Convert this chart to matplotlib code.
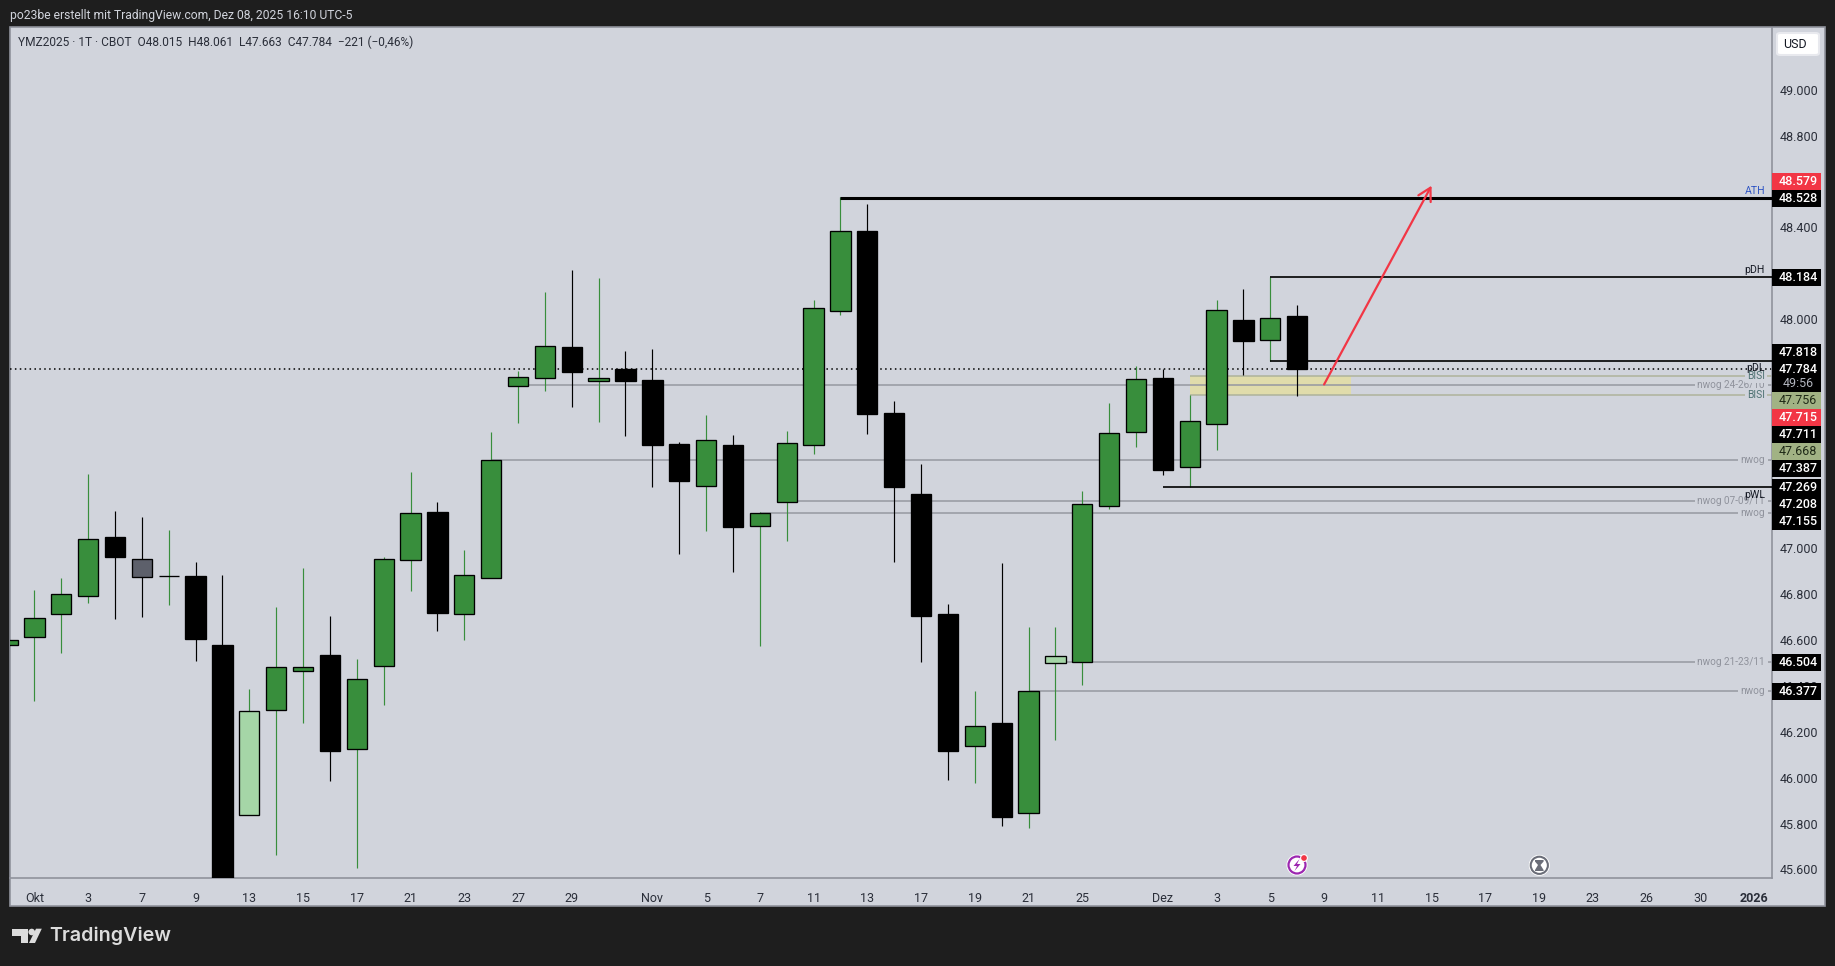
import matplotlib
matplotlib.use("Agg")
import matplotlib.pyplot as plt
from matplotlib.patches import Rectangle, Circle, Polygon, FancyBboxPatch

W, H = 1835, 966
BG = "#1e1e1e"
PANEL = "#d1d4dc"
BORDER = "#8f929c"
FONT = "Roboto"
plt.rcParams["font.family"] = [FONT, "DejaVu Sans"]

# bar index: 0 = 1 Oct 2025
bars   = list(range(-1, 48))
opens  = [46.580, 46.615, 46.715, 46.794, 47.050, 46.952, 46.878, 46.880, 46.579, 45.836,
          46.297, 46.467, 46.535, 46.127, 46.489, 46.951, 47.157, 46.715, 46.872, 47.710,
          47.745, 47.878, 47.731, 47.782, 47.734, 47.455, 47.274, 47.451, 47.099, 47.204,
          47.452, 48.037, 48.384, 47.590, 47.237, 46.714, 46.140, 46.239, 45.848, 46.502,
          46.506, 47.186, 47.509, 47.743, 47.356, 47.541, 47.996, 47.910, 48.015]
highs  = [46.599, 46.819, 46.871, 47.324, 47.163, 47.137, 47.080, 46.941, 46.884, 46.387,
          46.744, 46.914, 46.705, 46.518, 46.963, 47.333, 47.202, 46.993, 47.506, 47.774,
          48.118, 48.213, 48.179, 47.861, 47.870, 47.464, 47.582, 47.495, 47.159, 47.512,
          48.083, 48.531, 48.502, 47.643, 47.368, 46.757, 46.378, 46.936, 46.657, 46.657,
          47.250, 47.634, 47.795, 47.782, 47.669, 48.083, 48.131, 48.182, 48.061]
lows   = [46.580, 46.336, 46.545, 46.763, 46.692, 46.702, 46.753, 46.509, 45.300, 45.836,
          45.663, 46.239, 45.986, 45.606, 46.317, 46.814, 46.640, 46.600, 46.872, 47.548,
          47.688, 47.618, 47.553, 47.490, 47.268, 46.976, 47.076, 46.897, 46.576, 47.032,
          47.412, 48.018, 47.499, 46.941, 46.506, 45.990, 45.977, 45.789, 45.781, 46.164,
          46.404, 47.172, 47.442, 47.320, 47.266, 47.429, 47.755, 47.816, 47.663]
closes = [46.599, 46.695, 46.800, 47.040, 46.963, 46.877, 46.878, 46.605, 45.400, 46.289,
          46.481, 46.481, 46.116, 46.429, 46.952, 47.153, 46.720, 46.883, 47.384, 47.746,
          47.881, 47.771, 47.742, 47.730, 47.451, 47.294, 47.471, 47.093, 47.153, 47.458,
          48.047, 48.383, 47.586, 47.268, 46.705, 46.116, 46.224, 45.829, 46.377, 46.529,
          47.192, 47.502, 47.737, 47.342, 47.554, 48.038, 47.906, 48.003, 47.784]
# g green, k black, s slate, l light green
body_kinds = list("ggggkskkklggkgggkggggkgkkkgkggggkkkkgkglgggkggkgk")
wick_kinds = list(body_kinds)
wick_kinds[6] = "g"   # the doji of 8 Oct has a black body line and a green wick
BODY = {"g": "#388e3c", "k": "#000000", "s": "#5d606b", "l": "#a5d6a7"}
WICK = {"g": "#388e3c", "k": "#000000", "s": "#000000", "l": "#388e3c"}

price_ticks = [45.6, 45.8, 46.0, 46.2, 46.4, 46.6, 46.8, 47.0, 47.2, 47.4, 47.6, 47.8,
               48.0, 48.2, 48.4, 48.6, 48.8, 49.0]
time_ticks  = [0, 2, 4, 6, 8, 10, 12, 14, 16, 18, 20, 23, 25, 27, 29, 31, 33, 35, 37, 39,
               42, 44, 46, 48, 50, 52, 54, 56, 58, 60, 62, 64]
time_labels = ["Okt", "3", "7", "9", "13", "15", "17", "21", "23", "27", "29", "Nov", "5",
               "7", "11", "13", "17", "19", "21", "25", "Dez", "3", "5", "9", "11", "15",
               "17", "19", "23", "26", "30", "2026"]

level_values = [47.711, 47.384, 47.205, 47.153, 46.503, 46.377]
level_starts = [18, 17, 28, 27, 38, 37]
level_names  = ["nwog 24-26/10", "nwog", "nwog 07-09/11", "nwog", "nwog 21-23/11", "nwog"]
key_values = [48.528, 48.184, 47.816, 47.269]
key_starts = [30, 46, 46, 42]
key_names  = ["ATH", "pDH", "pDL", "pWL"]
bisi_top, bisi_bottom = 47.753, 47.668
bisi_start, bisi_end = 43, 49
last_close = 47.784
arrow_start = (48.0, 47.715)
arrow_end = (52.0, 48.582)

tag_texts = ["48.579", "48.528", "48.184", "47.818", "47.784", "49:56", "47.756", "47.715",
             "47.711", "47.668", "47.387", "47.269", "47.208", "47.155", "46.504", "46.377"]
tag_kinds = ["r", "k", "k", "k", "k", "c", "b", "r", "k", "b", "k", "k", "k", "k", "k", "k"]
tag_ypix  = [181.6, 198.6, 277.5, 352.7, 369.7, 383.7, 400.7, 417.7, 434.7, 451.7, 468.7,
             487.7, 504.7, 521.7, 662.5, 691.7]

L, R, T, B = 10.0, 1771.7, 27.5, 878.3
fx = lambda x: x / W
fy = lambda y: 1 - y / H

fig = plt.figure(figsize=(W / 100, H / 100), dpi=100, facecolor=BG)
fig.add_artist(Rectangle((fx(9.5), fy(906)), (1825 - 9.5) / W, (906 - 27) / H,
                         transform=fig.transFigure, facecolor=PANEL, edgecolor=BORDER,
                         linewidth=1.2, zorder=-5))
ax = fig.add_axes([fx(L), fy(B), (R - L) / W, (B - T) / H], facecolor="none")
ax.set_xlim(-0.908, 64.66)
ax.set_ylim(45.561, 49.272)

for s in ("top", "left"):
    ax.spines[s].set_visible(False)
for s in ("right", "bottom"):
    ax.spines[s].set_color(BORDER)
    ax.spines[s].set_linewidth(1.2)

ax.yaxis.tick_right()
ax.set_yticks(price_ticks, [f"{v:.3f}" for v in price_ticks])
ax.set_xticks(time_ticks, time_labels)
ax.tick_params(axis="both", length=0, labelcolor="#2a2e39", labelsize=9.0)
ax.tick_params(axis="y", pad=5.5)
ax.tick_params(axis="x", pad=10)
ax.get_xticklabels()[-1].set_fontweight("bold")

# BISI zone and lines
ax.add_patch(Rectangle((bisi_start, bisi_bottom), bisi_end - bisi_start, bisi_top - bisi_bottom,
                       facecolor="#e0dcab", edgecolor="none", zorder=1))
ax.hlines([bisi_top, bisi_bottom], bisi_start, 64.66, color="#aeb39b", lw=1.1, zorder=1.5)

# nwog levels
for v, s, n in zip(level_values, level_starts, level_names):
    ax.hlines(v, s, 64.66, color="#9598a1", lw=1.1, zorder=1.5)
    ax.annotate(n, xy=(0.9962, v), xycoords=("axes fraction", "data"), ha="right", va="center",
                fontsize=7.2, color="#8f929c", zorder=2,
                bbox=dict(facecolor=PANEL, edgecolor="none", pad=1.8))
for v in (bisi_top, bisi_bottom):
    ax.annotate("BISI", xy=(0.9962, v), xycoords=("axes fraction", "data"), ha="right", va="center",
                fontsize=7.4, color="#4f7273", zorder=2.1,
                bbox=dict(facecolor=PANEL, edgecolor="none", pad=1.4))

# last price
ax.axhline(last_close, color="#000000", lw=1.1, ls=(0, (1, 2.2)), zorder=2.2)

# candles
tops = [max(o, c) for o, c in zip(opens, closes)]
bots = [min(o, c) for o, c in zip(opens, closes)]
ax.vlines(bars, lows, highs, colors=[WICK[k] for k in wick_kinds], lw=0.85, zorder=3)
ax.bar(bars, [t - b for t, b in zip(tops, bots)], bottom=bots, width=0.755,
       color=[BODY[k] for k in body_kinds], edgecolor="#000000", linewidth=0.95, zorder=4)

# key levels
for v, s, n in zip(key_values, key_starts, key_names):
    lw = 2.2 if n == "ATH" else 1.2
    ax.hlines(v, s, 64.66, color="#000000", lw=lw, zorder=4.5)
above = {"ATH": 7, "pDH": 7, "pDL": -7, "pWL": -8}
for v, n in zip(key_values, key_names):
    ax.annotate(n, xy=(0.9962, v), xycoords=("axes fraction", "data"), xytext=(0, above[n] * 0.72),
                textcoords="offset points", ha="right", va="center", fontsize=7.6,
                color="#2f55c4" if n == "ATH" else "#131722", zorder=6)

# arrow
ax.annotate("", xy=arrow_end, xytext=arrow_start,
            arrowprops=dict(arrowstyle="->,head_length=0.75,head_width=0.42", color="#f23645",
                            lw=1.6, shrinkA=0, shrinkB=0, mutation_scale=12), zorder=7)

# price tags
TAG_BG = {"r": "#f23645", "k": "#000000", "c": "#000000", "b": "#a1b284"}
TAG_FG = {"r": "#ffffff", "k": "#ffffff", "c": "#b2b5be", "b": "#1f2a17"}
for t, k, y in zip(tag_texts, tag_kinds, tag_ypix):
    fig.add_artist(Rectangle((fx(1772), fy(y + 8.5)), 49 / W, 17 / H, transform=fig.transFigure,
                             facecolor=TAG_BG[k], edgecolor="none", zorder=8))
    fig.text(fx(1798), fy(y), t, ha="center", va="center", fontsize=9.0, color=TAG_FG[k],
             fontweight="medium" if k in "rk" else "normal", zorder=9)

# USD button
fig.add_artist(FancyBboxPatch((fx(1777), fy(55)), 42 / W, 22 / H,
                              boxstyle="round,pad=0,rounding_size=0.002",
                              transform=fig.transFigure, facecolor="#ffffff",
                              edgecolor="#e8e9ee", linewidth=1.5, zorder=8))
fig.text(fx(1794.5), fy(44.5), "USD", ha="center", va="center", fontsize=9.0, color="#131722", zorder=9)

# header and legend
fig.text(fx(10), fy(15), "po23be erstellt mit TradingView.com, Dez 08, 2025 16:10 UTC-5",
         ha="left", va="center", fontsize=8.7, color="#d1d4dc")
fig.text(fx(18), fy(42), "YMZ2025 · 1T · CBOT  O48.015  H48.061  L47.663  C47.784  −221 (−0,46%)",
         ha="left", va="center", fontsize=8.6, color="#2a2e39", zorder=9)

# event icons and logo, in picture pixels
ov = fig.add_axes([0, 0, 1, 1], facecolor="none", zorder=10)
ov.set_xlim(0, W)
ov.set_ylim(H, 0)
ov.axis("off")
ov.add_patch(Circle((1297, 865), 10.5, facecolor="#ffffff", edgecolor="none"))
ov.add_patch(Circle((1297, 865), 8.5, facecolor="#ffffff", edgecolor="#9c27b0", lw=1.6))
ov.add_patch(Polygon([(1299.5, 859), (1293.5, 866), (1297, 866), (1294.5, 871), (1300.5, 864),
                      (1297, 864)], closed=True, facecolor="#9c27b0", edgecolor="none"))
ov.add_patch(Circle((1304, 858), 3.4, facecolor="#f23645", edgecolor="#ffffff", lw=0.8))
ov.add_patch(Circle((1539.3, 865.3), 10.5, facecolor="#ffffff", edgecolor="none"))
ov.add_patch(Circle((1539.3, 865.3), 8.6, facecolor="#ffffff", edgecolor="#6a6d78", lw=1.5))
ov.add_patch(Polygon([(1535, 860), (1543.6, 860), (1543.6, 861.5), (1540.5, 865), (1543.6, 870),
                      (1543.6, 871), (1535, 871), (1535, 870), (1538, 865), (1535, 861.5)],
                     closed=True, facecolor="#6a6d78", edgecolor="none"))

LOGO = "#dcdcdc"
ov.add_patch(Polygon([(12, 928.7), (28, 928.7), (28, 943), (20.5, 943), (20.5, 935.7), (12, 935.7)],
                     closed=True, facecolor=LOGO, edgecolor="none"))
ov.add_patch(Circle((31.7, 932), 3.3, facecolor=LOGO, edgecolor="none"))
ov.add_patch(Polygon([(36, 928.7), (41.8, 928.7), (35, 943), (29, 943)], closed=True,
                     facecolor=LOGO, edgecolor="none"))
ov.text(49.5, 936, "TradingView", ha="left", va="center", fontsize=14.2, color=LOGO,
        fontfamily="Inter", fontweight="semibold")

fig.savefig("out.png", dpi=100, facecolor=BG)
